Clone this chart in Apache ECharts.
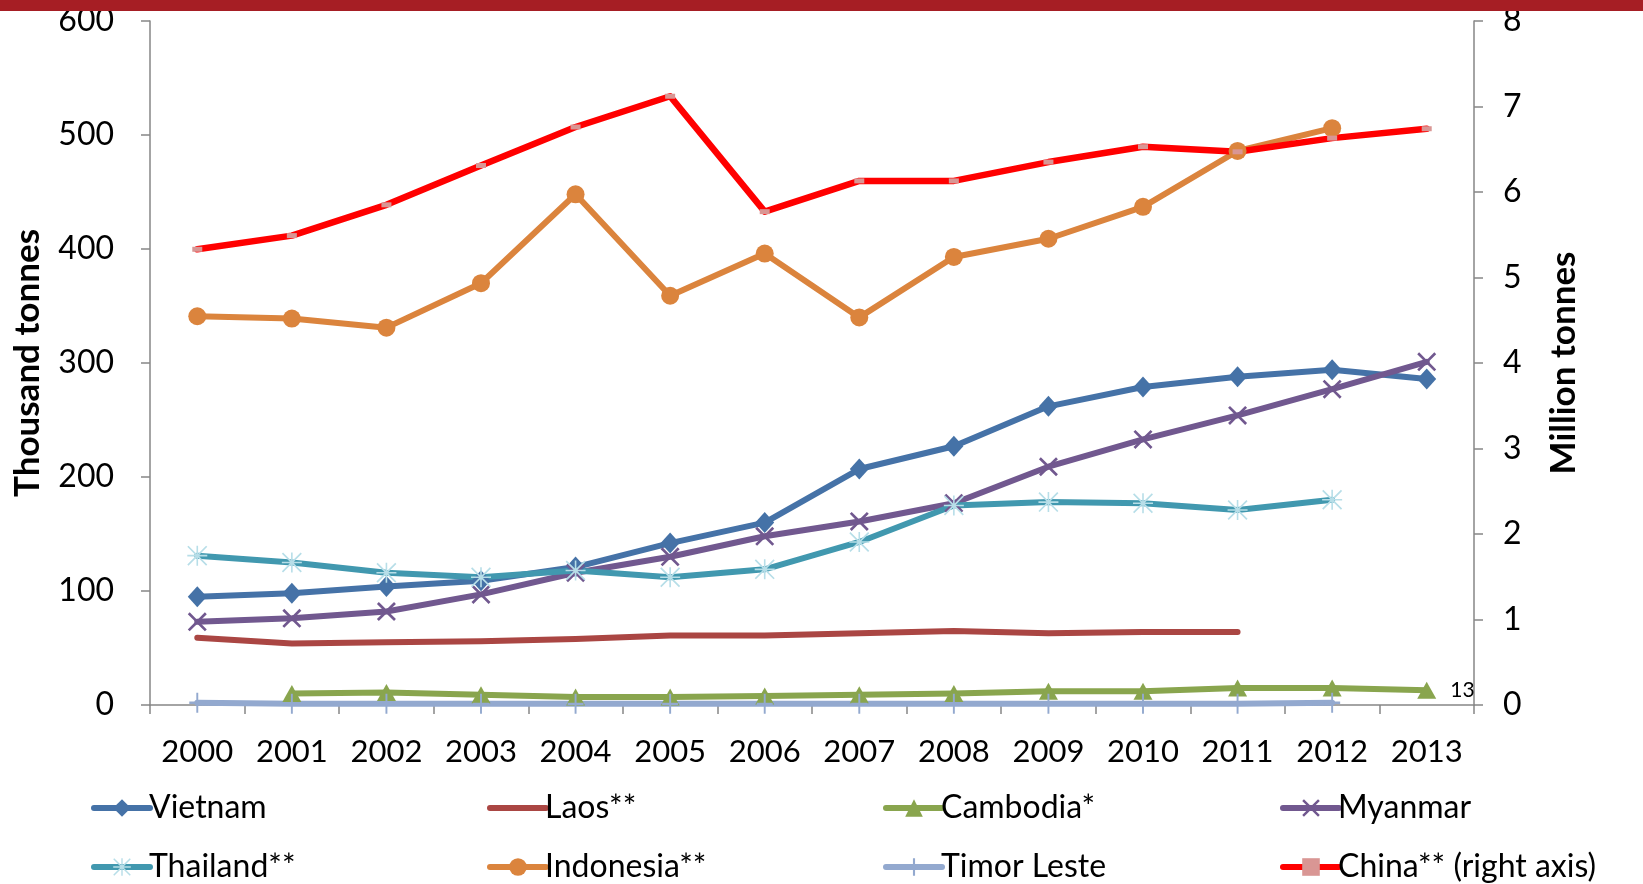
<!DOCTYPE html>
<html><head><meta charset="utf-8">
<script src="https://cdn.jsdelivr.net/npm/echarts@6/dist/echarts.min.js"></script>
<style>html,body{margin:0;padding:0;background:#fff}#c{width:1643px;height:884px}</style>
</head><body><div id="c"></div>
<script>
const years = ['2000','2001','2002','2003','2004','2005','2006','2007','2008','2009','2010','2011','2012','2013'];
const vietnam   = [95, 98, 104, 109, 121, 142, 160, 207, 227, 262, 279, 288, 294, 286];
const laos      = [59, 54, 55, 56, 58, 61, 61, 63, 65, 63, 64, 64, null, null];
const cambodia  = [null, 10, 11, 9, 7, 7, 8, 9, 10, 12, 12, 15, 15, 13];
const myanmar   = [73, 76, 82, 97, 116, 130, 148, 161, 177, 209, 233, 254, 277, 301];
const thailand  = [131, 125, 116, 112, 118, 112, 119, 143, 175, 178, 177, 171, 180, null];
const indonesia = [341, 339, 331, 370, 448, 359, 396, 340, 393, 409, 437, 486, 506, null];
const timor     = [2, 1, 1, 1, 1, 1, 1, 1, 1, 1, 1, 1, 2, null];
const china     = [5.33, 5.49, 5.85, 6.31, 6.76, 7.12, 5.77, 6.13, 6.13, 6.35, 6.53, 6.47, 6.63, 6.74];
const leftTicks = {min: 0, max: 600, interval: 100};
const rightTicks = {min: 0, max: 8, interval: 1};

const FONT = 'Lato';
const X_PATH = 'path://M0,1L1,0L5,4L9,0L10,1L6,5L10,9L9,10L5,6L1,10L0,9L4,5Z';
const STAR_PATH = 'path://M4.6,0L5.4,0L5.4,10L4.6,10Z M0,4.6L10,4.6L10,5.4L0,5.4Z M0.6,0L10,9.4L9.4,10L0,0.6Z M9.4,0L10,0.6L0.6,10L0,9.4Z';
const PLUS_PATH = 'path://M4.4,0L5.6,0L5.6,10L4.4,10Z M0,4.4L10,4.4L10,5.6L0,5.6Z';

function line(name, data, color, extra) {
  return Object.assign({
    name, type: 'line', data,
    lineStyle: {color, width: 6, cap: 'round', join: 'round'},
    itemStyle: {color},
    symbolSize: 18,
    emphasis: {disabled: true},
    animation: false
  }, extra || {});
}

const legendCols = [
  ['Vietnam', 'Thailand**'],
  ['Laos**', 'Indonesia**'],
  ['Cambodia*', 'Timor Leste'],
  ['Myanmar', 'China** (right axis)']
];
const legendLeft = [91, 487, 883, 1280];

const chart = echarts.init(document.getElementById('c'));
chart.setOption({
  animation: false,
  graphic: [{type: 'rect', left: 0, top: 0, shape: {width: 1643, height: 11}, style: {fill: '#A61E24'}, z: 100}],
  grid: {left: 150, right: 169, top: 21, bottom: 179},
  xAxis: {
    type: 'category', data: years, boundaryGap: true,
    axisLine: {lineStyle: {color: '#868686', width: 1.5}},
    axisTick: {show: true, length: 9, lineStyle: {color: '#868686', width: 1.5}},
    axisLabel: {fontFamily: FONT, fontSize: 31, color: '#000', margin: 31, interval: 0}
  },
  yAxis: [{
    type: 'value', min: leftTicks.min, max: leftTicks.max, interval: leftTicks.interval,
    name: 'Thousand tonnes', nameLocation: 'middle', nameGap: 105,
    nameTextStyle: {fontFamily: FONT, fontSize: 35, fontWeight: 'bold', color: '#000'},
    axisLine: {show: true, lineStyle: {color: '#868686', width: 1.5}},
    axisTick: {show: true, length: 9, lineStyle: {color: '#868686', width: 1.5}},
    splitLine: {show: false},
    axisLabel: {fontFamily: FONT, fontSize: 32, color: '#000', margin: 36}
  }, {
    type: 'value', position: 'right', min: rightTicks.min, max: rightTicks.max, interval: rightTicks.interval,
    name: 'Million tonnes', nameLocation: 'middle', nameGap: 72,
    nameTextStyle: {fontFamily: FONT, fontSize: 35, fontWeight: 'bold', color: '#000'},
    axisLine: {show: true, lineStyle: {color: '#868686', width: 1.5}},
    axisTick: {show: true, length: 9, lineStyle: {color: '#868686', width: 1.5}},
    splitLine: {show: false},
    axisLabel: {fontFamily: FONT, fontSize: 32, color: '#000', margin: 29}
  }],
  legend: legendCols.map((names, i) => ({
    data: names.map(n => n === 'Laos**' ? {name: n, itemStyle: {opacity: 0}} : n),
    left: legendLeft[i],
    orient: 'vertical', top: 792, itemGap: 27, itemWidth: 56, itemHeight: 22,
    padding: 0,
    lineStyle: {width: 6},
    textStyle: {fontFamily: FONT, fontSize: 32, color: '#000', padding: [0, 0, 0, -6]}
  })),
  series: [
    line('Vietnam', vietnam, '#4572A7', {symbol: 'diamond', symbolSize: [19, 21]}),
    line('Laos**', laos, '#AA4643', {symbol: 'none'}),
    line('Cambodia*', cambodia, '#89A54E', {symbol: 'triangle', symbolSize: [19, 17],
      label: {show: true, position: 'right', distance: 14, fontFamily: FONT, fontSize: 21, color: '#000',
        formatter: p => p.dataIndex === years.length - 1 ? String(p.value) : ''}}),
    line('Myanmar', myanmar, '#71588F', {symbol: X_PATH, symbolSize: 19}),
    line('Thailand**', thailand, '#4198AF', {symbol: STAR_PATH, symbolSize: 20, itemStyle: {color: '#B7DEE8'}}),
    line('Indonesia**', indonesia, '#DB843D', {symbol: 'circle', symbolSize: 18}),
    line('Timor Leste', timor, '#93A9CF', {symbol: PLUS_PATH, symbolSize: [16, 20]}),
    line('China** (right axis)', china, '#FF0000', {yAxisIndex: 1, symbol: 'rect', symbolSize: [10, 5],
      itemStyle: {color: '#D99694'}, lineStyle: {color: '#FF0000', width: 6.5, cap: 'round', join: 'round'}})
  ]
});
</script></body></html>
